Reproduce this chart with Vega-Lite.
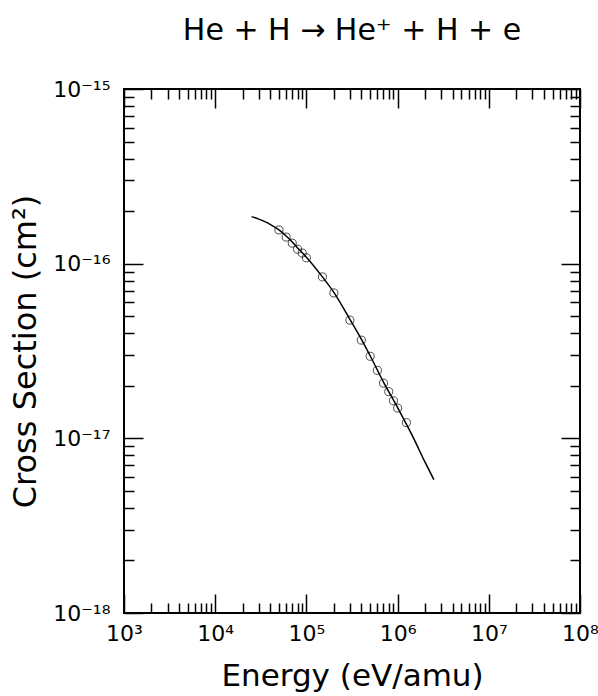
{
  "$schema": "https://vega.github.io/schema/vega-lite/v6.json",
  "width": 456,
  "height": 524,
  "autosize": {"type": "none"},
  "padding": {"left": 124, "top": 89, "right": 18, "bottom": 83},
  "background": "white",
  "title": {"text": "He + H → He⁺ + H + e", "fontSize": 30, "font": "DejaVu Sans", "fontWeight": "normal", "color": "black", "anchor": "middle", "offset": 32},
  "datasets": {
    "curve": [
      {"energy": 25000, "sigma": 1.86e-16},
      {"energy": 30000, "sigma": 1.80e-16},
      {"energy": 35000, "sigma": 1.74e-16},
      {"energy": 40000, "sigma": 1.68e-16},
      {"energy": 50000, "sigma": 1.56e-16},
      {"energy": 60000, "sigma": 1.44e-16},
      {"energy": 70000, "sigma": 1.33e-16},
      {"energy": 80000, "sigma": 1.23e-16},
      {"energy": 100000, "sigma": 1.09e-16},
      {"energy": 150000, "sigma": 8.4e-17},
      {"energy": 200000, "sigma": 6.85e-17},
      {"energy": 300000, "sigma": 4.8e-17},
      {"energy": 400000, "sigma": 3.7e-17},
      {"energy": 500000, "sigma": 2.97e-17},
      {"energy": 700000, "sigma": 2.1e-17},
      {"energy": 1000000, "sigma": 1.5e-17},
      {"energy": 1500000, "sigma": 1.0e-17},
      {"energy": 2000000, "sigma": 7.3e-18},
      {"energy": 2500000, "sigma": 5.8e-18}
    ],
    "points": [
      {"energy": 50000, "sigma": 1.56e-16},
      {"energy": 60000, "sigma": 1.42e-16},
      {"energy": 70000, "sigma": 1.31e-16},
      {"energy": 80000, "sigma": 1.21e-16},
      {"energy": 90000, "sigma": 1.15e-16},
      {"energy": 100000, "sigma": 1.08e-16},
      {"energy": 150000, "sigma": 8.4e-17},
      {"energy": 200000, "sigma": 6.8e-17},
      {"energy": 300000, "sigma": 4.75e-17},
      {"energy": 400000, "sigma": 3.65e-17},
      {"energy": 500000, "sigma": 2.95e-17},
      {"energy": 600000, "sigma": 2.45e-17},
      {"energy": 700000, "sigma": 2.07e-17},
      {"energy": 800000, "sigma": 1.85e-17},
      {"energy": 900000, "sigma": 1.64e-17},
      {"energy": 1000000, "sigma": 1.49e-17},
      {"energy": 1250000, "sigma": 1.23e-17}
    ]
  },
  "config": {
    "font": "DejaVu Sans",
    "view": {"stroke": "black", "strokeWidth": 2},
    "axis": {
      "domain": false,
      "grid": false,
      "tickColor": "black",
      "tickWidth": 1.5,
      "labelColor": "black",
      "labelFont": "DejaVu Sans",
      "labelFontSize": 22,
      "labelFlush": false,
      "labelOverlap": false,
      "labelBound": false,
      "titleColor": "black",
      "titleFont": "DejaVu Sans",
      "titleFontSize": 32,
      "titleFontWeight": "normal"
    }
  },
  "resolve": {"axis": {"x": "independent", "y": "independent"}},
  "layer": [
    {
      "data": {"name": "curve"},
      "mark": {"type": "line", "color": "black", "strokeWidth": 1.5, "interpolate": "monotone"},
      "encoding": {
        "x": {
          "field": "energy", "type": "quantitative",
          "scale": {"type": "log", "domain": [1000, 100000000], "nice": false},
          "axis": {
            "orient": "bottom",
            "title": "Energy (eV/amu)",
            "titleFontSize": 31,
            "titlePadding": 8,
            "values": [1000,2000,3000,4000,5000,6000,7000,8000,9000,10000,20000,30000,40000,50000,60000,70000,80000,90000,100000,200000,300000,400000,500000,600000,700000,800000,900000,1000000,2000000,3000000,4000000,5000000,6000000,7000000,8000000,9000000,10000000,20000000,30000000,40000000,50000000,60000000,70000000,80000000,90000000,100000000],
            "tickSize": {"condition": {"test": "abs(log(datum.value)/LN10 - round(log(datum.value)/LN10)) < 0.001", "value": -19}, "value": -10},
            "labelPadding": 29,
            "labelExpr": "abs(log(datum.value)/LN10 - round(log(datum.value)/LN10)) < 0.001 ? '10' + ['⁰','¹','²','³','⁴','⁵','⁶','⁷','⁸','⁹'][round(log(datum.value)/LN10)] : ''"
          }
        },
        "y": {
          "field": "sigma", "type": "quantitative",
          "scale": {"type": "log", "domain": [1e-18, 1e-15], "nice": false},
          "axis": {
            "orient": "left",
            "title": "Cross Section (cm²)",
            "titlePadding": 10,
            "values": [1e-18,2e-18,3e-18,4e-18,5e-18,6e-18,7e-18,8e-18,9e-18,1e-17,2e-17,3e-17,4e-17,5e-17,6e-17,7e-17,8e-17,9e-17,1e-16,2e-16,3e-16,4e-16,5e-16,6e-16,7e-16,8e-16,9e-16,1e-15],
            "tickSize": {"condition": {"test": "abs(log(datum.value)/LN10 - round(log(datum.value)/LN10)) < 0.001", "value": -19}, "value": -10},
            "labelPadding": 33,
            "labelExpr": "abs(log(datum.value)/LN10 - round(log(datum.value)/LN10)) < 0.001 ? '10⁻¹' + ['⁰','¹','²','³','⁴','⁵','⁶','⁷','⁸','⁹'][-round(log(datum.value)/LN10) - 10] : ''"
          }
        }
      }
    },
    {
      "data": {"name": "points"},
      "mark": {"type": "point", "shape": "circle", "filled": false, "color": "black", "strokeWidth": 1, "size": 65},
      "encoding": {
        "x": {
          "field": "energy", "type": "quantitative",
          "scale": {"type": "log", "domain": [1000, 100000000], "nice": false},
          "axis": {
            "orient": "top",
            "title": null,
            "labels": false,
            "values": [1000,2000,3000,4000,5000,6000,7000,8000,9000,10000,20000,30000,40000,50000,60000,70000,80000,90000,100000,200000,300000,400000,500000,600000,700000,800000,900000,1000000,2000000,3000000,4000000,5000000,6000000,7000000,8000000,9000000,10000000,20000000,30000000,40000000,50000000,60000000,70000000,80000000,90000000,100000000],
            "tickSize": {"condition": {"test": "abs(log(datum.value)/LN10 - round(log(datum.value)/LN10)) < 0.001", "value": -19}, "value": -10}
          }
        },
        "y": {
          "field": "sigma", "type": "quantitative",
          "scale": {"type": "log", "domain": [1e-18, 1e-15], "nice": false},
          "axis": {
            "orient": "right",
            "title": null,
            "labels": false,
            "values": [1e-18,2e-18,3e-18,4e-18,5e-18,6e-18,7e-18,8e-18,9e-18,1e-17,2e-17,3e-17,4e-17,5e-17,6e-17,7e-17,8e-17,9e-17,1e-16,2e-16,3e-16,4e-16,5e-16,6e-16,7e-16,8e-16,9e-16,1e-15],
            "tickSize": {"condition": {"test": "abs(log(datum.value)/LN10 - round(log(datum.value)/LN10)) < 0.001", "value": -19}, "value": -10}
          }
        }
      }
    }
  ]
}
